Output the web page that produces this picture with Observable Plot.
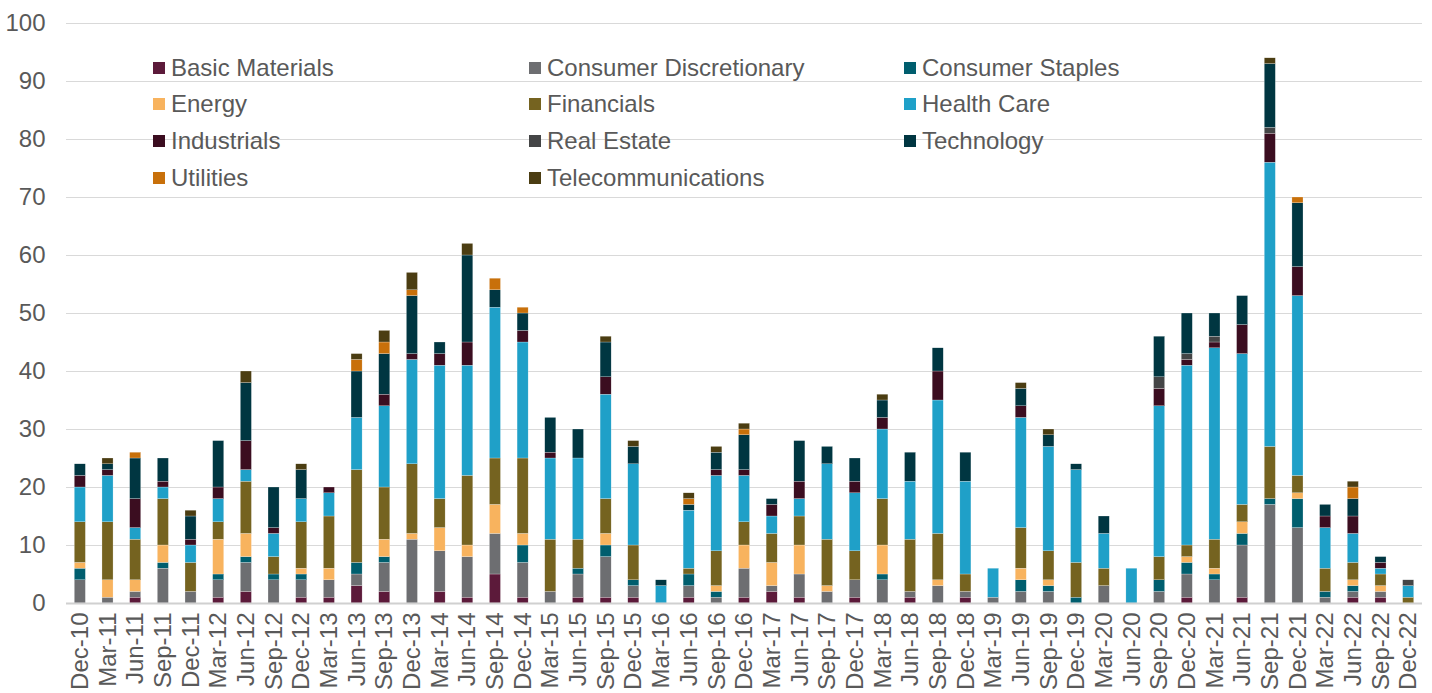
<!DOCTYPE html>
<html>
<head>
<meta charset="utf-8">
<script src="https://cdn.jsdelivr.net/npm/d3@7"></script>
<script src="https://cdn.jsdelivr.net/npm/@observablehq/plot@0.6"></script>
<style>
  html, body { margin: 0; padding: 0; background: #fff; }
  #wrap { position: relative; width: 1432px; height: 693px; font-family: "Liberation Sans", Arial, sans-serif; }
  .leg { position: absolute; display: flex; align-items: center; font-size: 24px; color: #595959; white-space: nowrap; }
  .sw { width: 12px; height: 12px; margin-right: 6px; }
</style>
</head>
<body>
<div id="wrap"></div>
<script>
const quarters = ["Dec-10","Mar-11","Jun-11","Sep-11","Dec-11","Mar-12","Jun-12","Sep-12","Dec-12","Mar-13","Jun-13","Sep-13","Dec-13","Mar-14","Jun-14","Sep-14","Dec-14","Mar-15","Jun-15","Sep-15","Dec-15","Mar-16","Jun-16","Sep-16","Dec-16","Mar-17","Jun-17","Sep-17","Dec-17","Mar-18","Jun-18","Sep-18","Dec-18","Mar-19","Jun-19","Sep-19","Dec-19","Mar-20","Jun-20","Sep-20","Dec-20","Mar-21","Jun-21","Sep-21","Dec-21","Mar-22","Jun-22","Sep-22","Dec-22"];

const sectors = ["Basic Materials","Consumer Discretionary","Consumer Staples","Energy","Financials","Health Care","Industrials","Real Estate","Technology","Utilities","Telecommunications"];
const colors = ["#5C1A3A","#6D6E71","#005E6E","#F8B35E","#756320","#1FA0C8","#3B0D20","#444546","#003641","#C8700A","#4B3D12"];

const basicMaterials   = [0,0,1,0,0,1,2,0,1,1,3,2,0,2,1,5,1,0,1,1,1,0,1,0,1,2,1,0,1,0,1,0,1,0,0,0,0,0,0,0,1,0,1,0,0,0,1,1,0];
const consumerDisc     = [4,1,1,6,2,3,5,4,3,3,2,5,11,7,7,7,6,2,4,7,2,0,2,1,5,1,4,2,3,4,1,3,1,1,2,2,0,3,0,2,4,4,9,17,13,1,1,1,0];
const consumerStaples  = [2,0,0,1,0,1,1,1,1,0,2,1,0,0,0,0,3,0,1,2,1,0,2,1,0,0,0,0,0,1,0,0,0,0,2,1,1,0,0,2,2,1,2,1,5,1,1,0,0];
const energy           = [1,3,2,3,0,6,4,0,1,2,0,3,1,4,2,5,2,0,0,2,0,0,0,1,4,4,5,1,0,5,0,1,0,0,2,1,0,0,0,0,1,1,2,0,1,0,1,1,0];
const financials       = [7,10,7,8,5,3,9,3,8,9,16,9,12,5,12,8,13,9,5,6,6,0,1,6,4,5,5,8,5,8,9,8,3,0,7,5,6,3,0,4,2,5,3,9,3,4,3,2,1];
const healthCare       = [6,8,2,2,3,4,2,4,4,4,9,14,18,23,19,26,20,14,14,18,14,3,10,13,8,3,3,13,10,12,10,23,16,5,19,18,16,6,6,26,31,33,26,49,31,7,5,1,2];
const industrials      = [2,1,5,1,1,2,5,1,0,1,0,2,1,2,4,0,2,1,0,3,0,0,0,1,1,2,3,0,2,2,0,5,0,0,2,0,0,0,0,3,1,1,5,5,5,2,3,1,0];
const realEstate       = [0,0,0,0,0,0,0,0,0,0,0,0,0,0,0,0,0,0,0,0,0,0,0,0,0,0,0,0,0,0,0,0,0,0,0,0,0,0,0,2,1,1,0,1,0,0,0,0,1];
const technology       = [2,1,7,4,4,8,10,7,5,0,8,7,10,2,15,3,3,6,5,6,3,1,1,3,6,1,7,3,4,3,5,4,5,0,3,2,1,3,0,7,7,4,5,11,11,2,3,1,0];
const utilities        = [0,0,1,0,0,0,0,0,0,0,2,2,1,0,0,2,1,0,0,0,0,0,1,0,1,0,0,0,0,0,0,0,0,0,0,0,0,0,0,0,0,0,0,0,1,0,2,0,0];
const telecoms         = [0,1,0,0,1,0,2,0,1,0,1,2,3,0,2,0,0,0,0,1,1,0,1,1,1,0,0,0,0,1,0,0,0,0,1,1,0,0,0,0,0,0,0,1,0,0,1,0,0];

const series = [basicMaterials, consumerDisc, consumerStaples, energy, financials, healthCare, industrials, realEstate, technology, utilities, telecoms];
const yTicks = [0,10,20,30,40,50,60,70,80,90,100];

const data = [];
sectors.forEach((s, si) => {
  quarters.forEach((q, qi) => {
    data.push({quarter: q, sector: s, value: series[si][qi]});
  });
});

const chart = Plot.plot({
  width: 1432,
  height: 693,
  marginLeft: 66,
  marginRight: 10,
  marginTop: 23,
  marginBottom: 90,
  style: {fontFamily: '"Liberation Sans", Arial, sans-serif', fontSize: "24px", color: "#595959", background: "#fff"},
  x: {domain: quarters, paddingInner: 0.6, paddingOuter: 0.3, label: null},
  y: {domain: [0, 100], label: null},
  color: {domain: sectors, range: colors},
  marks: [
    Plot.gridY(yTicks, {stroke: "#d9d9d9", strokeOpacity: 1, strokeWidth: 1}),
    Plot.barY(data, {x: "quarter", y: "value", fill: "sector", order: sectors, stroke: "#ffffff", strokeWidth: 0.4, strokeOpacity: 0.6}),
    Plot.ruleY([0], {stroke: "#d0d0d0", strokeWidth: 2}),
    Plot.axisY(yTicks, {tickSize: 0, tickPadding: 21, fontSize: 24, fill: "#595959", label: null}),
    Plot.axisX({tickSize: 0, tickPadding: 9, tickRotate: -90, fontSize: 24, fill: "#595959", label: null})
  ]
});

const wrap = document.getElementById("wrap");
wrap.appendChild(chart);

const legCols = [153, 529, 904];
const legRows = [68, 104, 141, 178];
sectors.forEach((s, i) => {
  const d = document.createElement("div");
  d.className = "leg";
  d.style.left = legCols[i % 3] + "px";
  d.style.top = (legRows[Math.floor(i / 3)] - 14) + "px";
  d.style.height = "28px";
  const sw = document.createElement("div");
  sw.className = "sw";
  sw.style.background = colors[i];
  const t = document.createElement("span");
  t.textContent = s;
  d.appendChild(sw);
  d.appendChild(t);
  wrap.appendChild(d);
});
</script>
</body>
</html>
